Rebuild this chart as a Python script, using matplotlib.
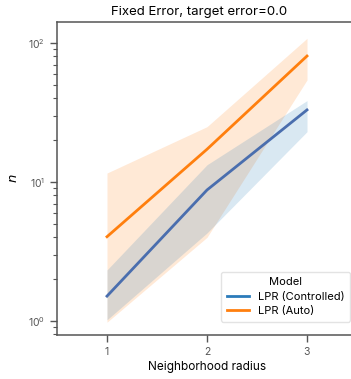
import numpy as np
import matplotlib
matplotlib.use("Agg")
import matplotlib.pyplot as plt
from matplotlib.lines import Line2D

plt.rcParams['font.family'] = ['Inter', 'DejaVu Sans']

# neighborhood radius vs. sample count n (mean and band)
radius = [1, 2, 3]
models = ['LPR (Controlled)', 'LPR (Auto)']

n_ctrl = [1.51, 8.76, 33.0]
n_ctrl_lo = [1.02, 4.3, 23.0]
n_ctrl_hi = [2.33, 13.3, 38.5]

n_auto = [4.04, 17.2, 80.6]
n_auto_lo = [0.98, 4.0, 54.2]
n_auto_hi = [11.6, 25.0, 108.0]

line_colors = ['#4a6eae', '#ff7f0e']
band_colors = ['#1f77b4', '#ff7f0e']
legend_colors = ['#2b7bba', '#ff7f0e']

fig = plt.figure(figsize=(3.51, 3.79), dpi=100)
ax = fig.add_axes([57/351, 44/379, 300/351, 313/379])

series = [(n_ctrl, n_ctrl_lo, n_ctrl_hi), (n_auto, n_auto_lo, n_auto_hi)]
# bands: the controlled one sits on top of the auto one
for i, ((m, lo, hi), bc) in enumerate(zip(series, band_colors)):
    ax.fill_between(radius, lo, hi, color=bc, alpha=0.17, lw=0, zorder=2 - i)
for (m, lo, hi), lc, name in zip(series, line_colors, models):
    ax.plot(radius, m, color=lc, lw=2, label=name, zorder=3)

ax.set_yscale('log')
ax.set_xlim(0.5, 3.5)
ax.set_ylim(0.793, 141.6)
ax.set_xticks(radius)

for s in ax.spines.values():
    s.set_color('#555555')
    s.set_linewidth(1.1)
ax.tick_params(which='major', length=5, width=1, colors='#555555', labelsize=7.5)
ax.tick_params(which='minor', length=3, width=0.8, colors='#555555')

ax.set_xlabel('Neighborhood radius', fontsize=8.5, labelpad=3)
ax.set_ylabel('$n$', fontsize=9.5, labelpad=6)
ax.set_title('Fixed Error, target error=0.0', fontsize=9.5, x=0.473, pad=5)

handles = [Line2D([], [], color=c, lw=2) for c in legend_colors]
leg = ax.legend(handles, models, title='Model', loc='lower right',
                fontsize=8, title_fontsize=8, frameon=True,
                bbox_to_anchor=(0.995, 0.025), handlelength=2.0,
                borderpad=0.5, labelspacing=0.4)
leg.get_frame().set_edgecolor('#dddddd')

fig.savefig('out.png', dpi=100)
